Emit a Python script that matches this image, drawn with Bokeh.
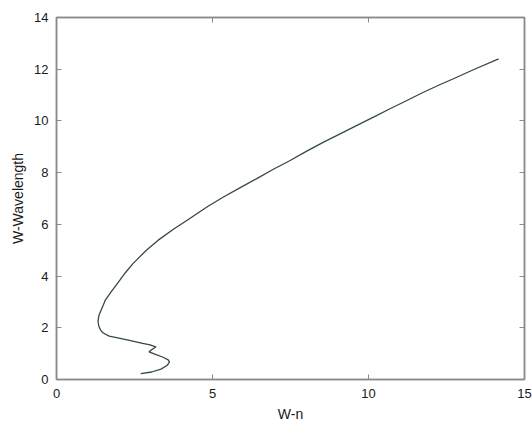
from bokeh.plotting import figure
from bokeh.models import Range1d, LinearAxis, FixedTicker, CustomLabelingPolicy
from bokeh.embed import file_html
from bokeh.resources import INLINE

# Curve (W-n, W-Wavelength), from the lower start point to the upper end
wn = [2.70, 3.05, 3.35, 3.55, 3.62, 3.58, 3.40, 3.15, 2.97, 3.05, 3.18,
      3.00, 2.76, 2.30, 2.00, 1.69, 1.50, 1.42, 1.36, 1.33, 1.36, 1.45,
      1.56, 1.75, 1.95, 2.20, 2.45, 2.88, 3.25, 3.77, 4.26, 4.82, 5.35,
      5.89, 6.42, 6.95, 7.49, 8.02, 8.56, 9.09, 9.63, 10.16, 10.69, 11.23,
      11.76, 12.30, 12.83, 13.36, 14.17]
wl = [0.23, 0.29, 0.40, 0.55, 0.68, 0.76, 0.87, 0.98, 1.07, 1.15, 1.26,
      1.34, 1.40, 1.52, 1.60, 1.68, 1.80, 1.90, 2.05, 2.25, 2.48, 2.74,
      3.06, 3.39, 3.71, 4.12, 4.48, 5.00, 5.38, 5.83, 6.22, 6.67, 7.06,
      7.42, 7.77, 8.13, 8.47, 8.83, 9.18, 9.50, 9.83, 10.15, 10.47, 10.79,
      11.11, 11.41, 11.69, 11.98, 12.40]

x_ticks = [0, 5, 10, 15]
y_ticks = [0, 2, 4, 6, 8, 10, 12, 14]
x_label = "W-n"
y_label = "W-Wavelength"

FONT = "Liberation Sans"
AX_COLOR = "#8a8a8a"

p = figure(width=532, height=425, output_backend="svg", toolbar_location=None,
           x_range=Range1d(0, 15), y_range=Range1d(0, 14),
           min_border_left=56, min_border_right=8, min_border_top=17,
           min_border_bottom=46)
p.background_fill_color = "white"
p.border_fill_color = "white"
p.outline_line_color = AX_COLOR
p.outline_line_width = 1.5
p.xgrid.visible = False
p.ygrid.visible = False

def style(ax, ticks, show_labels=True):
    ax.ticker = FixedTicker(ticks=ticks)
    ax.axis_line_color = AX_COLOR
    ax.axis_line_width = 1.5
    ax.major_tick_line_color = AX_COLOR
    ax.major_tick_in = 5
    ax.major_tick_out = 0
    ax.minor_tick_line_color = None
    ax.major_label_text_font = FONT
    ax.major_label_text_color = "#1a1a1a"
    ax.major_label_text_font_size = "13px"
    ax.major_label_standoff = 9
    ax.axis_label_text_font = FONT
    ax.axis_label_text_font_style = "normal"
    ax.axis_label_text_font_size = "14px"
    ax.axis_label_text_color = "#1a1a1a"
    if not show_labels:
        ax.major_label_standoff = 0
        ax.major_label_text_font_size = "1px"
        ax.major_label_policy = CustomLabelingPolicy(
            code="for (const i of Array.from(indices)) indices.unset(i)")

style(p.xaxis[0], x_ticks)
style(p.yaxis[0], y_ticks)
p.xaxis[0].axis_label = x_label
p.xaxis[0].axis_label_standoff = 5
p.yaxis[0].axis_label = y_label
p.yaxis[0].axis_label_standoff = 5
p.yaxis[0].major_label_standoff = 8

top = LinearAxis()
style(top, x_ticks, show_labels=False)
p.add_layout(top, "above")
right = LinearAxis()
style(right, y_ticks, show_labels=False)
p.add_layout(right, "right")

p.line(wn, wl, line_color="#34474c", line_width=1.3, line_join="round")

open("out.html", "w").write(file_html(p, INLINE))
